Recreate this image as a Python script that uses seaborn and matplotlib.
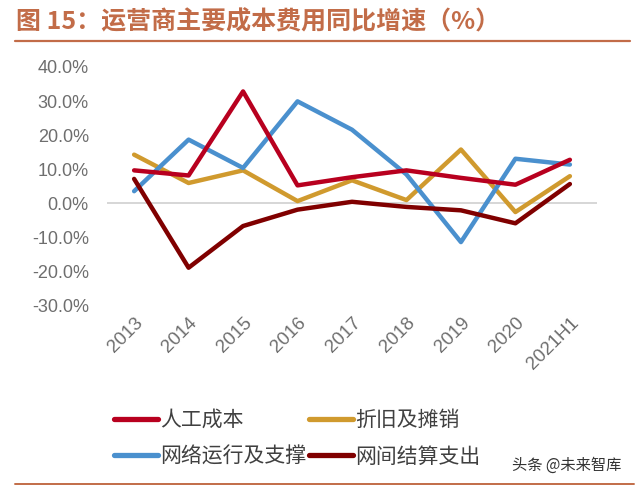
import numpy as np
import pandas as pd
import matplotlib
matplotlib.use("Agg")
import matplotlib.pyplot as plt
import seaborn as sns
from matplotlib.lines import Line2D

# data (YoY growth, %)
years = ["2013", "2014", "2015", "2016", "2017", "2018", "2019", "2020", "2021H1"]
labor = [9.7, 8.2, 32.8, 5.3, 7.7, 9.7, 7.5, 5.5, 12.8]
depreciation = [14.3, 6.0, 9.7, 0.7, 6.8, 1.0, 15.8, -2.5, 8.0]
network = [3.6, 18.7, 10.4, 29.9, 21.6, 8.5, -11.3, 13.1, 11.4]
interconnect = [7.2, -18.8, -6.6, -1.8, 0.5, -1.0, -2.0, -5.8, 5.7]

names = ["人工成本", "折旧及摊销", "网络运行及支撑", "网间结算支出"]
colors = ["#B8001F", "#D09A2E", "#4A90CE", "#800000"]

df = pd.DataFrame({"year": years, names[0]: labor, names[1]: depreciation,
                   names[2]: network, names[3]: interconnect})
long_df = df.melt("year", var_name="series", value_name="value")

sns.set_theme(style="white")
plt.rcParams['font.family'] = ['Noto Sans CJK SC', 'DejaVu Sans']

fig = plt.figure(figsize=(6.4, 4.88), dpi=100)
ax = fig.add_axes([0.167, 0.373, 0.766, 0.49])

draw_order = [names[1], names[2], names[0], names[3]]
sns.lineplot(data=long_df, x="year", y="value", hue="series", hue_order=draw_order,
             palette=dict(zip(names, colors)), linewidth=3.2, sort=False, ax=ax,
             legend=False)

ax.axhline(0, color="#D0D0D0", linewidth=1.2, zorder=0)
ax.set_xlim(-0.5, 8.5)
ax.set_ylim(-30, 40)
ax.set_yticks(range(-30, 41, 10))
ax.set_yticklabels([f"{v:.1f}%" for v in range(-30, 41, 10)],
                   family=['Liberation Sans', 'DejaVu Sans'])
ax.set_xlabel("")
ax.set_ylabel("")
for sp in ax.spines.values():
    sp.set_visible(False)
ax.tick_params(axis="both", colors="#6E6E6E", length=0)
ax.tick_params(axis="y", pad=13, labelsize=13)
ax.tick_params(axis="x", pad=6, labelsize=13.5)
for lab in ax.get_xticklabels():
    lab.set_rotation(45)
    lab.set_ha("right")
    lab.set_rotation_mode("anchor")
    lab.set_family(['Liberation Sans', 'DejaVu Sans'])

# legend, 2 columns
leg_order = [names[0], names[2], names[1], names[3]]
handles = [Line2D([0], [0], color=colors[names.index(n)], linewidth=3.8, solid_capstyle="round")
           for n in leg_order]
fig.legend(handles, leg_order, loc="upper left", bbox_to_anchor=(0.178, 0.162),
           ncol=2, frameon=False, fontsize=15, handlelength=2.1, handletextpad=0.1,
           columnspacing=0.15, labelspacing=0.7, labelcolor="#404040",
           borderaxespad=0, borderpad=0)

# title and rules
title_color = "#C26C48"
fig.text(0.025, 0.955, "图 15：运营商主要成本费用同比增速（%）", color=title_color,
         fontsize=18, fontweight="bold", va="center", ha="left")
fig.add_artist(Line2D([0.023, 0.985], [0.916, 0.916], color=title_color, linewidth=1.6,
                      transform=fig.transFigure))
fig.add_artist(Line2D([0.023, 0.99], [0.008, 0.008], color=title_color, linewidth=1.4,
                      transform=fig.transFigure))
fig.text(0.8, 0.047, "头条 @未来智库", color="#333333", fontsize=11, ha="left", va="center")

fig.savefig("out.png", dpi=100)
